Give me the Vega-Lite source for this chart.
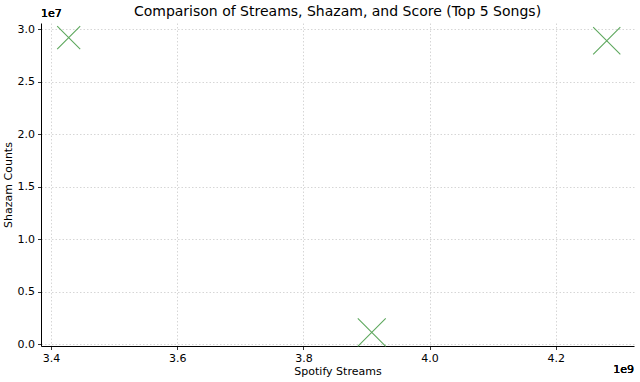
{
  "$schema": "https://vega.github.io/schema/vega-lite/v6.json",
  "width": 593,
  "height": 323,
  "autosize": {"type": "none"},
  "padding": {"left": 41, "top": 23, "right": 6, "bottom": 36},
  "background": "white",
  "config": {
    "view": {"stroke": null},
    "font": "DejaVu Sans",
    "axis": {
      "labelFont": "DejaVu Sans",
      "titleFont": "DejaVu Sans",
      "labelFontSize": 11,
      "titleFontSize": 11,
      "titleFontWeight": "normal",
      "labelColor": "black",
      "titleColor": "black",
      "domainColor": "black",
      "domainWidth": 1,
      "tickColor": "black",
      "tickSize": 3.5,
      "tickWidth": 0.8,
      "grid": true,
      "gridColor": "#cccccc",
      "gridDash": [1.5, 2],
      "gridWidth": 0.8,
      "labelPadding": 3
    }
  },
  "title": {
    "text": "Comparison of Streams, Shazam, and Score (Top 5 Songs)",
    "font": "DejaVu Sans",
    "fontSize": 14,
    "fontWeight": "normal",
    "color": "black",
    "anchor": "middle",
    "offset": 4,
    "dy": 15
  },
  "data": {
    "values": [
      {"song": "A", "streams": 3427900000, "shazam": 29200000, "score": 70},
      {"song": "B", "streams": 4280800000, "shazam": 28910000, "score": 85},
      {"song": "C", "streams": 3908300000, "shazam": 1140000, "score": 88}
    ]
  },
  "layer": [
    {
      "mark": {
        "type": "point",
        "shape": "M-1,-1L1,1M-1,1L1,-1",
        "filled": false,
        "stroke": "#5ea85e",
        "strokeWidth": 1.1,
        "opacity": 1
      },
      "encoding": {
        "x": {
          "field": "streams",
          "type": "quantitative",
          "scale": {"domain": [3384000000, 4324000000], "nice": false, "zero": false},
          "axis": {
            "title": "Spotify Streams",
            "values": [3400000000, 3600000000, 3800000000, 4000000000, 4200000000],
            "labelExpr": "format(datum.value / 1e9, '.1f')",
            "titlePadding": 2
          }
        },
        "y": {
          "field": "shazam",
          "type": "quantitative",
          "scale": {"domain": [-160000, 30600000], "nice": false, "zero": false},
          "axis": {
            "title": "Shazam Counts",
            "values": [0, 5000000, 10000000, 15000000, 20000000, 25000000, 30000000],
            "labelExpr": "format(datum.value / 1e7, '.1f')",
            "titlePadding": 4
          }
        },
        "size": {
          "field": "score",
          "type": "quantitative",
          "scale": {"domain": [70, 88], "range": [530, 780]},
          "legend": null
        }
      }
    },
    {
      "mark": {"type": "text", "text": "1e7", "align": "left", "baseline": "bottom", "fontSize": 11, "font": "DejaVu Sans", "color": "black", "dy": -4},
      "encoding": {
        "x": {"datum": 3384000000, "type": "quantitative"},
        "y": {"datum": 30600000, "type": "quantitative"}
      }
    },
    {
      "mark": {"type": "text", "text": "1e9", "align": "right", "baseline": "top", "fontSize": 11, "font": "DejaVu Sans", "color": "black", "dy": 18},
      "encoding": {
        "x": {"datum": 4324000000, "type": "quantitative"},
        "y": {"datum": -160000, "type": "quantitative"}
      }
    }
  ]
}
